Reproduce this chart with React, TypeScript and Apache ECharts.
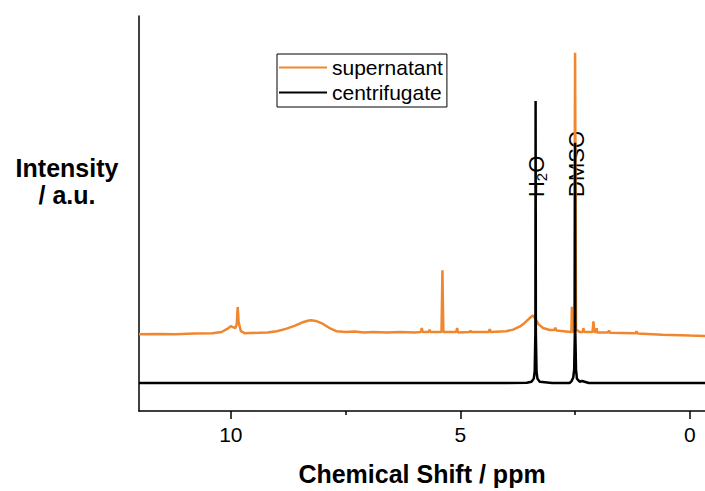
import React, { useEffect, useRef } from "react";
import * as echarts from "echarts";

const FONT = "'Liberation Sans', Arial, sans-serif";

const seriesNames = ["supernatant", "centrifugate"];
const seriesColors = ["#F0862E", "#000000"];

// [chemical shift ppm, intensity a.u.]
const supernatant: [number, number][] = [
  [12.0, 19.4], [11.6, 19.5], [11.2, 19.4], [10.8, 19.6], [10.4, 19.7], [10.2, 20.0],
  [10.05, 21.0], [10.0, 21.5], [9.95, 21.2], [9.9, 21.0], [9.87, 22.0], [9.85, 26.3],
  [9.83, 22.5], [9.78, 20.2], [9.7, 19.7], [9.4, 19.8], [9.2, 19.9], [9.0, 20.2],
  [8.8, 20.8], [8.6, 21.6], [8.45, 22.4], [8.3, 22.9], [8.25, 23.0], [8.15, 22.8],
  [8.0, 22.1], [7.85, 21.0], [7.7, 20.2], [7.5, 20.0], [7.3, 20.1], [7.1, 19.9],
  [6.9, 20.0], [6.6, 19.9], [6.3, 20.0], [6.0, 19.9], [5.86, 20.0], [5.84, 21.0],
  [5.82, 20.0], [5.69, 20.0], [5.67, 20.6], [5.65, 20.0], [5.41, 20.0], [5.39, 35.6],
  [5.37, 20.0], [5.09, 20.0], [5.07, 21.0], [5.05, 19.9], [4.8, 20.0], [4.78, 20.3],
  [4.76, 20.0], [4.38, 20.0], [4.36, 20.7], [4.34, 20.0], [4.0, 20.2], [3.85, 20.6],
  [3.7, 21.4], [3.6, 22.3], [3.5, 23.4], [3.42, 24.2], [3.36, 23.3], [3.3, 22.0],
  [3.2, 21.0], [3.05, 20.5], [2.95, 20.5], [2.93, 21.1], [2.91, 20.4], [2.75, 20.2],
  [2.6, 20.0], [2.58, 20.0], [2.57, 26.4], [2.56, 20.0], [2.52, 20.2], [2.5, 90.7],
  [2.48, 20.6], [2.4, 20.0], [2.33, 20.0], [2.32, 21.0], [2.3, 20.0], [2.12, 20.0],
  [2.1, 22.7], [2.08, 20.0], [2.04, 20.0], [2.03, 21.0], [2.02, 19.9], [1.78, 19.9],
  [1.76, 20.4], [1.74, 19.8], [1.18, 19.7], [1.16, 20.2], [1.14, 19.6], [0.6, 19.3],
  [0.0, 19.1], [-0.33, 19.0],
];

const centrifugate: [number, number][] = [
  [12.0, 7.1], [10.0, 7.1], [8.0, 7.1], [6.0, 7.1], [4.0, 7.1], [3.55, 7.15],
  [3.45, 7.4], [3.4, 8.2], [3.38, 10.0], [3.365, 20.0], [3.36, 78.5], [3.355, 20.0],
  [3.34, 10.0], [3.32, 8.2], [3.27, 7.4], [3.0, 7.1], [2.62, 7.1], [2.58, 7.5],
  [2.54, 8.5], [2.52, 10.5], [2.505, 20.0], [2.5, 67.9], [2.495, 20.0], [2.48, 10.5],
  [2.46, 8.2], [2.4, 7.4], [2.35, 7.6], [2.2, 7.1], [0.0, 7.1], [-0.33, 7.1],
];

const majorTicks = [10, 5, 0];
const minorTicks = [7.5, 2.5];

const xMin = -0.33;
const xMax = 12;

export default function App() {
  const ref = useRef<HTMLDivElement>(null);
  useEffect(() => {
    if (!ref.current) return;
    const chart = echarts.init(ref.current, null, { renderer: "svg" });
    const gridBox = { left: 139, right: 0, top: 16, bottom: 79 };
    chart.setOption({
      animation: false,
      backgroundColor: "#ffffff",
      grid: gridBox,
      legend: {
        orient: "vertical",
        left: 277,
        top: 54,
        data: seriesNames,
        icon: "rect",
        itemWidth: 48,
        itemHeight: 2,
        itemGap: 4,
        padding: [3, 4, 4, 2],
        borderColor: "#000",
        borderWidth: 1,
        textStyle: { fontSize: 21, color: "#000", fontFamily: FONT },
      },
      xAxis: [
        {
          type: "value",
          min: xMin,
          max: xMax,
          inverse: true,
          name: "Chemical Shift / ppm",
          nameLocation: "middle",
          nameGap: 50,
          nameTextStyle: { fontSize: 25, fontWeight: "bold", color: "#000", fontFamily: FONT },
          axisLine: { show: true, onZero: false, lineStyle: { color: "#000", width: 1.5 } },
          axisTick: { show: true, length: 8, lineStyle: { color: "#000", width: 1.5 }, customValues: majorTicks },
          axisLabel: { show: true, fontSize: 21, color: "#000", fontFamily: FONT, margin: 13, customValues: majorTicks },
          splitLine: { show: false },
        },
        {
          type: "value",
          min: xMin,
          max: xMax,
          inverse: true,
          position: "bottom",
          axisLine: { show: false, onZero: false },
          axisTick: { show: true, length: 4, lineStyle: { color: "#000", width: 1.5 }, customValues: minorTicks },
          axisLabel: { show: false },
          splitLine: { show: false },
        },
      ],
      yAxis: {
        type: "value",
        min: 0,
        max: 100,
        position: "left",
        axisLine: { show: true, onZero: false, lineStyle: { color: "#000", width: 1.5 } },
        axisTick: { show: false },
        axisLabel: { show: false },
        splitLine: { show: false },
      },
      graphic: [
        {
          type: "text",
          x: 67,
          y: 154,
          style: {
            text: "Intensity\n/ a.u.",
            fontSize: 25,
            fontWeight: "bold",
            fontFamily: FONT,
            fill: "#000",
            align: "center",
            verticalAlign: "top",
            lineHeight: 27,
          },
        },
        {
          type: "text",
          x: 536,
          y: 197,
          rotation: Math.PI / 2,
          style: {
            text: "{a|H}{b|2}{a|O}",
            align: "left",
            verticalAlign: "middle",
            fill: "#000",
            rich: {
              a: { fontSize: 22, fontFamily: FONT, fill: "#000" },
              b: { fontSize: 15, fontFamily: FONT, fill: "#000", padding: [10, 0, 0, 0] },
            },
          },
        },
        {
          type: "text",
          x: 576,
          y: 197,
          rotation: Math.PI / 2,
          style: {
            text: "DMSO",
            fontSize: 22,
            fontFamily: FONT,
            fill: "#000",
            align: "left",
            verticalAlign: "middle",
          },
        },
      ],
      series: [
        {
          name: seriesNames[0],
          type: "line",
          data: supernatant,
          showSymbol: false,
          symbol: "none",
          color: seriesColors[0],
          lineStyle: { color: seriesColors[0], width: 2.5 },
        },
        {
          name: seriesNames[1],
          type: "line",
          data: centrifugate,
          showSymbol: false,
          symbol: "none",
          color: seriesColors[1],
          lineStyle: { color: seriesColors[1], width: 2.5 },
        },
      ],
    });
    return () => chart.dispose();
  }, []);
  return (
    <div
      ref={ref}
      style={{ position: "fixed", left: 0, top: 0, width: 705, height: 491, background: "#fff" }}
    />
  );
}
